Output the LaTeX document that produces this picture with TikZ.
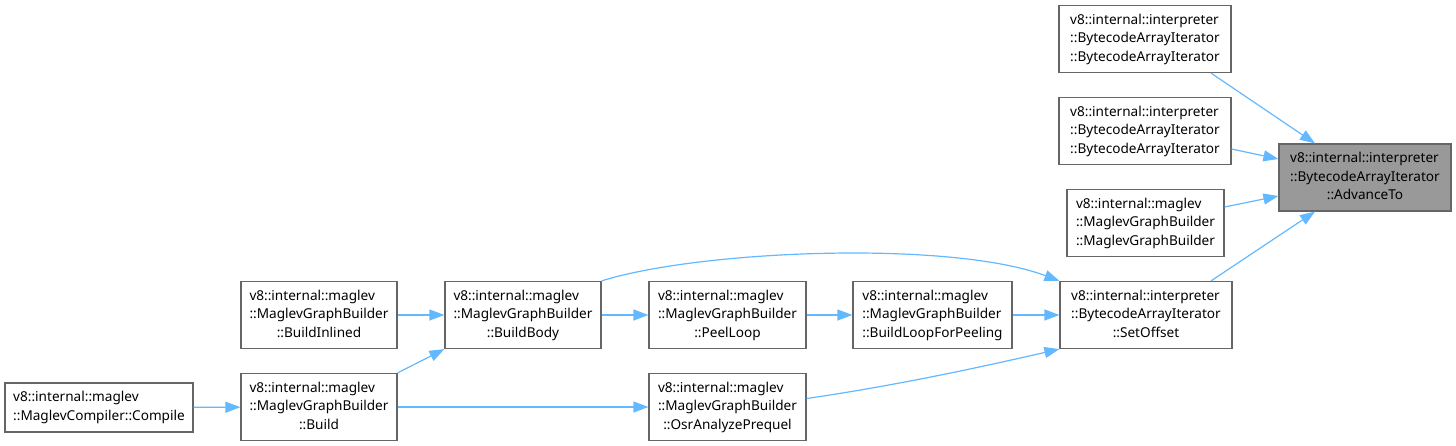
\documentclass[tikz,border=0pt]{standalone}
\usepackage{fontspec}
\setmainfont{Noto Sans}
\usetikzlibrary{arrows.meta}
\definecolor{boxgray}{HTML}{666666}
\definecolor{focusgray}{HTML}{999999}
\definecolor{callblue}{HTML}{63B8FF}

% three doxygen-style label lines: the first two flush left, the last centred
\newcommand{\fnlabel}[3]{\begin{tabular}{@{}l@{}}#1\\#2\\\multicolumn{1}{@{}c@{}}{#3}\end{tabular}}

\tikzset{
  fnbox/.style={draw=boxgray, line width=1.2pt, fill=white, inner sep=3pt,
    minimum height=67pt, font=\fontsize{13.6}{18.7}\selectfont},
  focusbox/.style={fnbox, fill=focusgray},
  callarrow/.style={draw=callblue, line width=1.2pt,
    -{Triangle[length=15pt, width=11pt]}},
}

\begin{document}
\begin{tikzpicture}[x=1pt, y=-1pt]
  \useasboundingbox (0,0) rectangle (1456,446);

  % the function whose callers are shown, at the right edge
  \node[focusbox, minimum width=172pt] (advanceto) at (1365,177.5)
    {\fnlabel{v8::internal::interpreter}{::BytecodeArrayIterator}{::AdvanceTo}};

  % direct callers, stacked in one column
  \node[fnbox, minimum width=172pt] (bactor1) at (1145,39)
    {\fnlabel{v8::internal::interpreter}{::BytecodeArrayIterator}{::BytecodeArrayIterator}};
  \node[fnbox, minimum width=172pt] (bactor2) at (1145,131)
    {\fnlabel{v8::internal::interpreter}{::BytecodeArrayIterator}{::BytecodeArrayIterator}};
  \node[fnbox, minimum width=157pt] (mgbctor) at (1145.5,223)
    {\fnlabel{v8::internal::maglev}{::MaglevGraphBuilder}{::MaglevGraphBuilder}};
  \node[fnbox, minimum width=172pt] (setoffset) at (1146,315)
    {\fnlabel{v8::internal::interpreter}{::BytecodeArrayIterator}{::SetOffset}};

  % the maglev chain leading to SetOffset
  \node[fnbox, minimum width=159pt] (buildloop) at (932.5,315)
    {\fnlabel{v8::internal::maglev}{::MaglevGraphBuilder}{::BuildLoopForPeeling}};
  \node[fnbox, minimum width=157pt] (peelloop) at (727.5,315)
    {\fnlabel{v8::internal::maglev}{::MaglevGraphBuilder}{::PeelLoop}};
  \node[fnbox, minimum width=157pt] (osrprequel) at (727.5,407)
    {\fnlabel{v8::internal::maglev}{::MaglevGraphBuilder}{::OsrAnalyzePrequel}};
  \node[fnbox, minimum width=156pt] (buildbody) at (523,315)
    {\fnlabel{v8::internal::maglev}{::MaglevGraphBuilder}{::BuildBody}};
  \node[fnbox, minimum width=156pt] (buildinlined) at (319,315)
    {\fnlabel{v8::internal::maglev}{::MaglevGraphBuilder}{::BuildInlined}};
  \node[fnbox, minimum width=156pt] (build) at (319,407)
    {\fnlabel{v8::internal::maglev}{::MaglevGraphBuilder}{::Build}};
  \node[fnbox, minimum width=188pt, minimum height=49pt, align=left] (compile) at (99,407.5)
    {v8::internal::maglev\\::MaglevCompiler::Compile};

  % calls into AdvanceTo
  \draw[callarrow] ([xshift=66pt]bactor1.south) -- ([xshift=-50pt]advanceto.north);
  \draw[callarrow] ([yshift=-18pt]bactor2.east) -- ([yshift=18.5pt]advanceto.west);
  \draw[callarrow] ([yshift=16pt]mgbctor.east) -- ([yshift=-18.5pt]advanceto.west);
  \draw[callarrow] ([xshift=65pt]setoffset.north) -- ([xshift=-50pt]advanceto.south);

  % calls into SetOffset
  \draw[callarrow] (buildloop) -- (setoffset);
  \draw[callarrow] (buildbody.north east) .. controls (700,250) and (950,240) .. (setoffset.north west);
  \draw[callarrow] ([yshift=8.5pt]osrprequel.east) .. controls (900,385) and (990,365) .. (setoffset.south west);

  % the rest of the chain
  \draw[callarrow] (peelloop) -- (buildloop);
  \draw[callarrow] (buildbody) -- (peelloop);
  \draw[callarrow] (buildinlined) -- (buildbody);
  \draw[callarrow] (build.north east) -- (buildbody.south west);
  \draw[callarrow] (build) -- (osrprequel);
  \draw[callarrow] (compile) -- (build);
\end{tikzpicture}
\end{document}
